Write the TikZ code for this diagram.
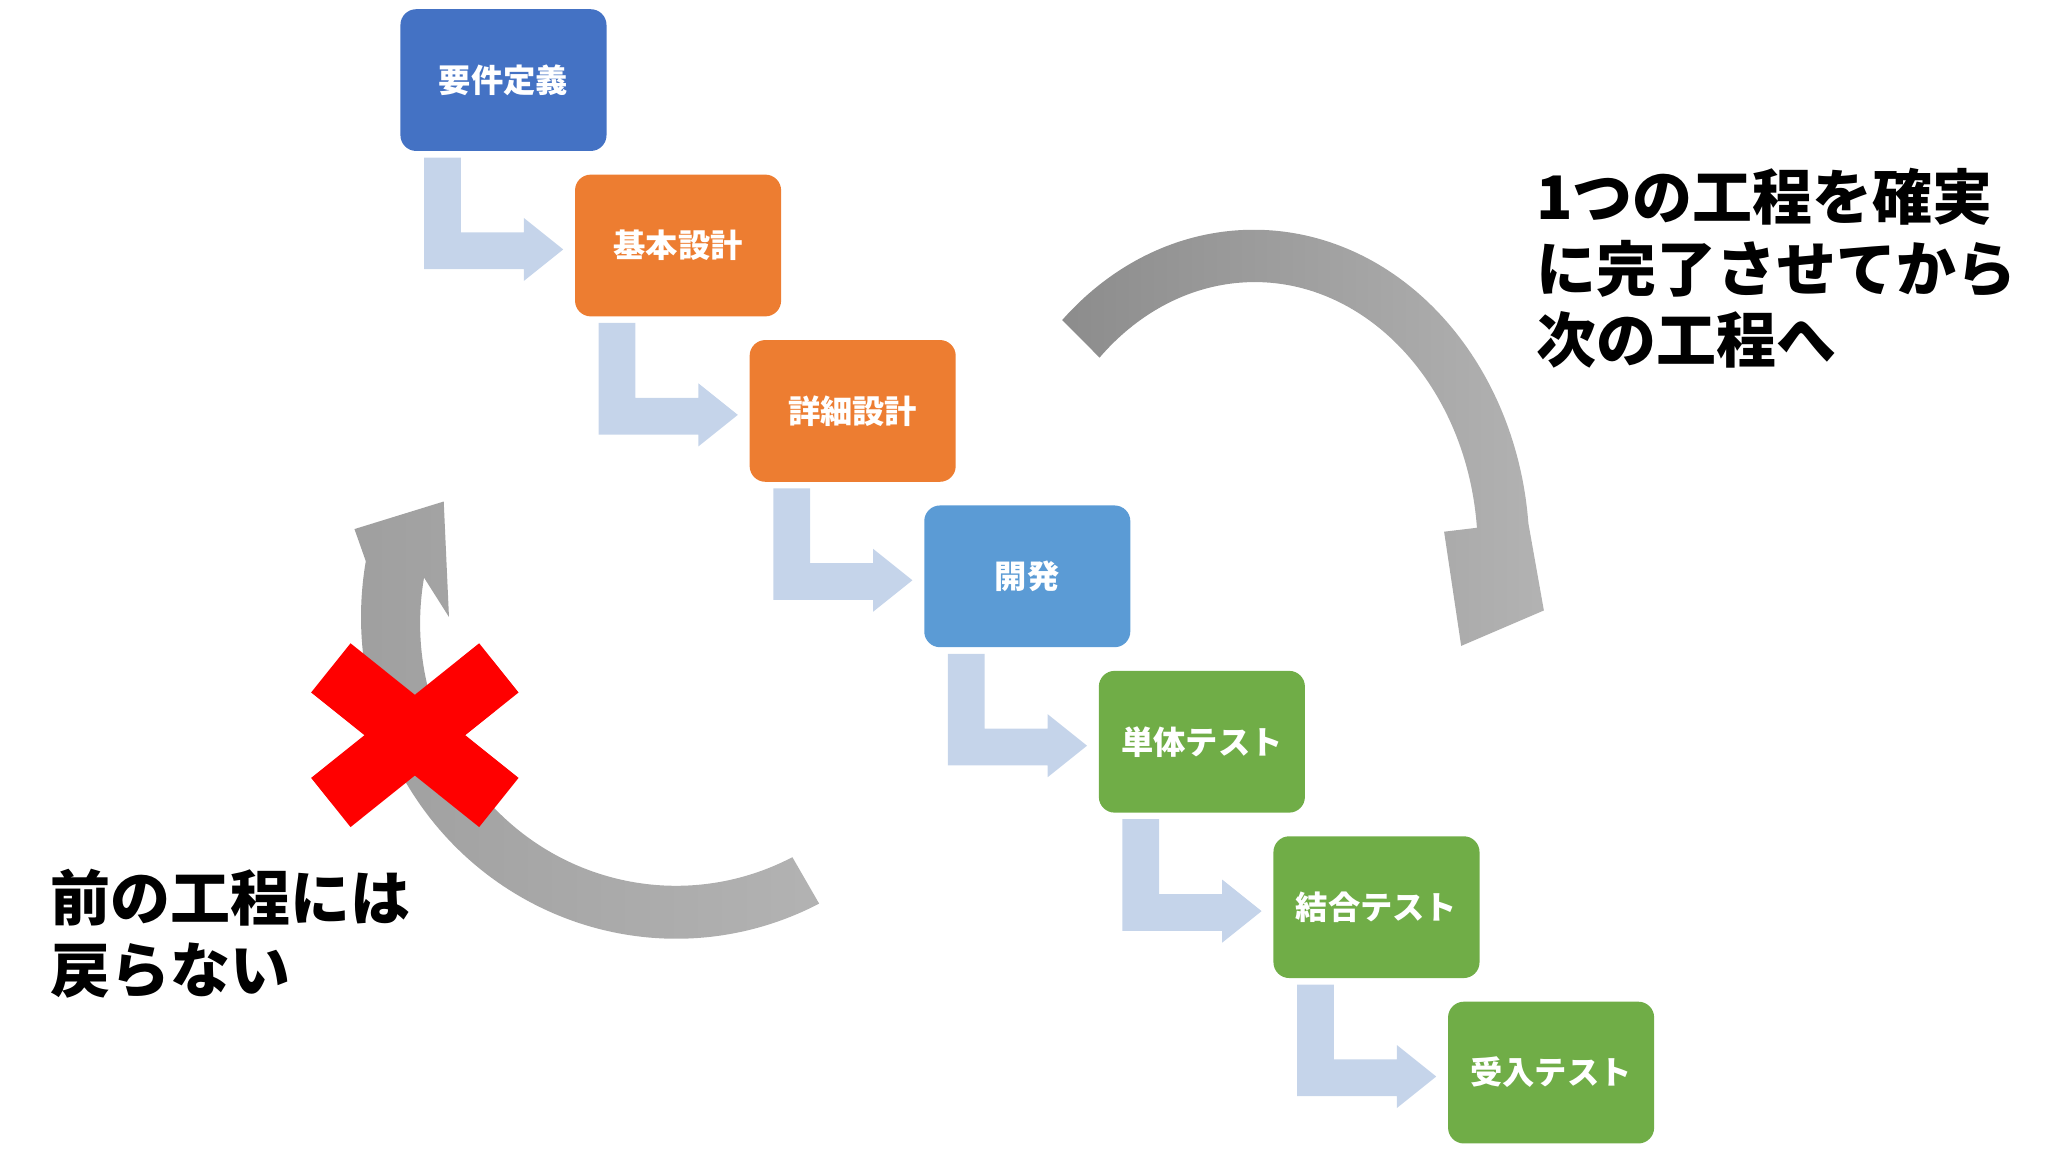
\documentclass[tikz,border=0pt]{standalone}
\usepackage{fontspec}
\newfontfamily\cjk{Noto Sans CJK JP}
\definecolor{cblue}{HTML}{4472C4}
\definecolor{corange}{HTML}{ED7D31}
\definecolor{clblue}{HTML}{5B9BD5}
\definecolor{cgreen}{HTML}{70AD47}
\definecolor{carrow}{HTML}{C5D4EA}
\begin{document}
\begin{tikzpicture}[x=0.02cm,y=-0.02cm,
  box/.style={rounded corners=0.24cm,minimum width=3.14cm,minimum height=2.16cm,inner sep=0pt,text=white,font=\cjk\bfseries\fontsize{14pt}{16pt}\selectfont},
  big/.style={font=\cjk\bfseries\fontsize{26pt}{31pt}\selectfont,align=left,anchor=north west,inner sep=0pt}]
\useasboundingbox (0,0) rectangle (1560,877.5);
\foreach \i/\t/\c in {0/要件定義/cblue,1/基本設計/corange,2/詳細設計/corange,3/開発/clblue,4/単体テスト/cgreen,5/結合テスト/cgreen,6/受入テスト/cgreen}{
  \node[box,fill=\c] (b\i) at (383.5+133*\i,61+126*\i) {\t};
}
\foreach \i in {0,...,5}{
  \begin{scope}[shift={(133*\i,126*\i)}]
  \fill[carrow] (323,120) -- (351,120) -- (351,177) -- (399,177) -- (399,166) -- (429,190) -- (399,214) -- (399,205) -- (323,205) -- cycle;
  \end{scope}
}
% right gray arrow
\shade[left color=gray!90,right color=gray!60]
  (955,420) ++(226:210 and 245) arc[start angle=226,end angle=355,x radius=210,y radius=245]
  -- (1176,465) -- (1113,492) -- (1100,405) -- (1125,402)
  arc[start angle=355,end angle=226,x radius=170,y radius=205] -- cycle;
% left gray arrow
\shade[left color=gray!75,right color=gray!60]
  (515,470) ++(63:240 and 245) arc[start angle=63,end angle=190,x radius=240,y radius=245]
  -- (270,403) -- (338,382) -- (342,470) -- (323,440)
  arc[start angle=190,end angle=63,x radius=195,y radius=200] -- cycle;
% red X
\fill[red,rotate around={38.7:(316,560)}] (234,536) rectangle (398,584);
\fill[red,rotate around={-38.7:(316,560)}] (234,536) rectangle (398,584);
\node[big] (t1) at (1170,128) {1つの工程を確実\\に完了させてから\\次の工程へ};
\node[big] (t2) at (38,662) {前の工程には\\戻らない};
\end{tikzpicture}
\end{document}
